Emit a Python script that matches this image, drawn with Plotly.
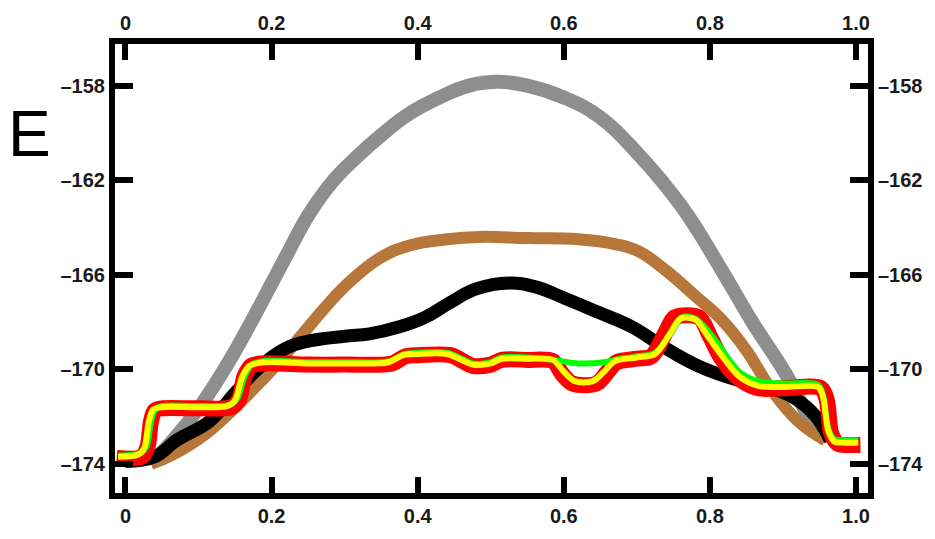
import plotly.graph_objects as go

# ---- data ----
gray_x = [0.043, 0.065, 0.106, 0.143, 0.179, 0.215, 0.252, 0.285, 0.317, 0.35, 0.388, 0.43, 0.47, 0.511,
          0.55, 0.6, 0.648, 0.702, 0.761, 0.816, 0.858, 0.903, 0.939, 0.958]
gray_y = [-173.7, -173.0, -171.4, -169.6, -167.6, -165.5, -163.4, -162.0, -161.0, -160.1, -159.2, -158.5,
          -158.0, -157.84, -158.0, -158.5, -159.3, -160.9, -163.1, -165.8, -168.0, -170.15, -172.2, -173.0]

brown_x = [0.035, 0.065, 0.111, 0.17, 0.207, 0.24, 0.27, 0.3, 0.348, 0.39, 0.44, 0.484, 0.55, 0.62, 0.67,
           0.702, 0.739, 0.78, 0.816, 0.85, 0.884, 0.921, 0.958]
brown_y = [-174.0, -173.6, -172.7, -171.0, -169.8, -168.6, -167.5, -166.5, -165.3, -164.75, -164.5, -164.4,
           -164.45, -164.5, -164.7, -165.0, -165.8, -166.9, -167.9, -169.2, -170.85, -172.2, -173.0]

black_x = [0.0, 0.04, 0.07, 0.115, 0.15, 0.184, 0.22, 0.252, 0.3, 0.334, 0.375, 0.41, 0.443, 0.48, 0.525,
           0.56, 0.602, 0.648, 0.693, 0.739, 0.78, 0.821, 0.855, 0.889, 0.92, 0.944, 0.965]
black_y = [-173.9, -173.7, -173.0, -172.2, -171.0, -169.9, -169.1, -168.8, -168.6, -168.5, -168.2, -167.8,
           -167.2, -166.6, -166.35, -166.5, -167.0, -167.6, -168.2, -169.1, -169.8, -170.3, -170.6, -170.85,
           -171.3, -171.95, -173.0]

red_x = [-0.012, 0.022, 0.03, 0.035, 0.04, 0.05, 0.1, 0.145, 0.155, 0.163, 0.172, 0.19, 0.25, 0.3, 0.365,
         0.383, 0.4, 0.445, 0.462, 0.475, 0.5, 0.515, 0.55, 0.585, 0.598, 0.612, 0.645, 0.66, 0.672, 0.7,
         0.72, 0.74, 0.752, 0.785, 0.8, 0.815, 0.84, 0.866, 0.9, 0.952, 0.96, 0.966, 0.975, 0.99, 1.006]
red_y = [-173.75, -173.7, -173.3, -172.2, -171.75, -171.65, -171.65, -171.6, -171.3, -170.3, -169.85, -169.75,
         -169.8, -169.8, -169.75, -169.45, -169.4, -169.4, -169.65, -169.85, -169.8, -169.6, -169.6, -169.65,
         -170.2, -170.6, -170.6, -170.1, -169.7, -169.55, -169.45, -168.4, -167.8, -167.8, -168.6, -169.5,
         -170.4, -170.8, -170.8, -170.8, -171.3, -172.7, -173.15, -173.2, -173.2]

green_x = [-0.01, 0.02, 0.029, 0.035, 0.041, 0.05, 0.1, 0.143, 0.153, 0.163, 0.173, 0.19, 0.25, 0.3, 0.362,
           0.382, 0.4, 0.44, 0.46, 0.475, 0.5, 0.515, 0.55, 0.585, 0.62, 0.655, 0.67, 0.7, 0.725, 0.748,
           0.762, 0.78, 0.798, 0.813, 0.84, 0.866, 0.9, 0.948, 0.955, 0.962, 0.97, 0.985, 1.003]
green_y = [-173.65, -173.55, -173.25, -172.2, -171.7, -171.55, -171.55, -171.5, -171.25, -170.3, -169.8,
           -169.65, -169.7, -169.7, -169.65, -169.35, -169.3, -169.3, -169.55, -169.75, -169.7, -169.5,
           -169.5, -169.6, -169.75, -169.7, -169.6, -169.45, -169.3, -168.4, -167.8, -167.85, -168.4, -169.0,
           -170.1, -170.5, -170.6, -170.65, -171.1, -172.5, -172.95, -173.0, -173.0]

yellow_x = [-0.01, 0.018, 0.026, 0.032, 0.038, 0.05, 0.1, 0.14, 0.15, 0.16, 0.17, 0.19, 0.25, 0.3, 0.36,
            0.38, 0.4, 0.44, 0.46, 0.475, 0.5, 0.515, 0.55, 0.585, 0.6, 0.615, 0.64, 0.655, 0.67, 0.7, 0.725,
            0.745, 0.76, 0.78, 0.795, 0.811, 0.84, 0.866, 0.9, 0.948, 0.955, 0.962, 0.97, 0.985, 1.003]
yellow_y = [-173.7, -173.6, -173.3, -172.2, -171.7, -171.6, -171.6, -171.55, -171.3, -170.3, -169.85, -169.7,
            -169.75, -169.75, -169.7, -169.4, -169.35, -169.35, -169.6, -169.8, -169.75, -169.55, -169.55,
            -169.6, -170.1, -170.5, -170.5, -170.1, -169.65, -169.5, -169.35, -168.5, -167.85, -167.9, -168.5,
            -169.2, -170.3, -170.7, -170.75, -170.75, -171.2, -172.6, -173.05, -173.1, -173.1]

x_ticks = [0, 0.2, 0.4, 0.6, 0.8, 1.0]
x_ticktext = ["0", "0.2", "0.4", "0.6", "0.8", "1.0"]
y_ticks = [-158, -162, -166, -170, -174]
y_ticktext = ["\u2013158", "\u2013162", "\u2013166", "\u2013170", "\u2013174"]

x_range = [-0.0143, 1.0164]
y_range = [-175.23, -156.24]

fig = go.Figure()

def add(x, y, color, width, smooth):
    fig.add_trace(go.Scatter(x=x, y=y, mode="lines",
                             line=dict(color=color, width=width, shape="spline", smoothing=smooth),
                             showlegend=False, hoverinfo="skip"))

add(gray_x, gray_y, "#8e8e8e", 14, 1.2)
add(brown_x, brown_y, "#b8773a", 12, 1.2)
add(black_x, black_y, "#000000", 13, 1.2)
add(red_x, red_y, "#ff0000", 16, 0.9)
add(green_x, green_y, "#00ff00", 6, 0.9)
add(yellow_x, yellow_y, "#ffff00", 6, 0.9)

# invisible trace for the mirrored axes
fig.add_trace(go.Scatter(x=[x_range[0]], y=[y_range[0]], xaxis="x2", yaxis="y2", mode="markers",
                         marker=dict(opacity=0), showlegend=False, hoverinfo="skip"))

tickfont = dict(family="Liberation Sans, Arial, sans-serif", size=20, color="#1a1a1a", weight="bold")
common = dict(showline=True, linecolor="black", linewidth=6, ticks="inside", tickcolor="black",
              tickwidth=6, showgrid=False, zeroline=False, tickfont=tickfont, fixedrange=True)

fig.update_layout(
    width=935, height=539,
    margin=dict(l=115, r=65, t=43, b=32),
    paper_bgcolor="white", plot_bgcolor="white",
    xaxis=dict(range=x_range, tickvals=x_ticks, ticktext=x_ticktext, ticklen=16, side="bottom", **common),
    xaxis2=dict(range=x_range, tickvals=x_ticks, ticktext=x_ticktext, ticklen=16, side="top",
                overlaying="x", **common),
    yaxis=dict(range=y_range, tickvals=y_ticks, ticktext=y_ticktext, ticklen=18, side="left", **common),
    yaxis2=dict(range=y_range, tickvals=y_ticks, ticktext=y_ticktext, ticklen=18, side="right",
                overlaying="y", **common),
    annotations=[dict(text="E", xref="paper", yref="paper", x=-0.114, y=0.80, xanchor="center",
                      yanchor="middle", showarrow=False,
                      font=dict(family="Liberation Sans, Arial, sans-serif", size=64, color="black"))],
)

fig.write_html("out.html")
